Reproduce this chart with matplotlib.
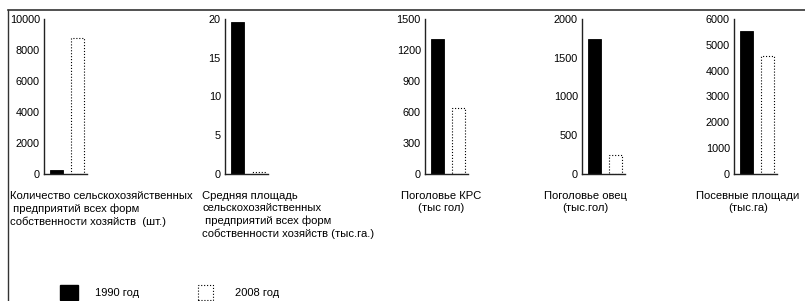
import matplotlib
matplotlib.use('Agg')
import matplotlib.pyplot as plt
from matplotlib.patches import Rectangle
from matplotlib.lines import Line2D

plt.rcParams['font.family'] = ['Liberation Sans', 'DejaVu Sans']

# data (1990 vs 2008)
years = ['1990 год', '2008 год']
enterprises = [250, 8800]
avg_area = [19.6, 0.3]
cattle = [1310, 640]
sheep = [1740, 240]
sown = [5550, 4550]

values = [enterprises, avg_area, cattle, sheep, sown]
yticks = [
    [0, 2000, 4000, 6000, 8000, 10000],
    [0, 5, 10, 15, 20],
    [0, 300, 600, 900, 1200, 1500],
    [0, 500, 1000, 1500, 2000],
    [0, 1000, 2000, 3000, 4000, 5000, 6000],
]
titles = [
    'Количество сельскохозяйственных\n предприятий всех форм\nсобственности хозяйств  (шт.)',
    'Средняя площадь\nсельскохозяйственных\n предприятий всех форм\nсобственности хозяйств (тыс.га.)',
    'Поголовье КРС\n(тыс гол)',
    'Поголовье овец\n(тыс.гол)',
    'Посевные площади\n(тыс.га)',
]

W, H = 805, 301
fig = plt.figure(figsize=(W / 100, H / 100), dpi=100)

spine_x = [44, 225, 425, 582, 734]
top_px, bot_px = 19, 174
ax_w = 43

for i in range(5):
    ax = fig.add_axes([spine_x[i] / W, (H - bot_px) / H, ax_w / W, (bot_px - top_px) / H])
    v = values[i]
    ax.bar(0, v[0], width=0.65, color='black', edgecolor='black', linewidth=0.6)
    ax.bar(1, v[1], width=0.65, color='white', edgecolor='black', linewidth=0.8, linestyle=':')
    ax.set_xlim(-0.6, 1.45)
    ax.set_ylim(0, yticks[i][-1])
    ax.set_yticks(yticks[i])
    ax.set_xticks([])
    ax.tick_params(axis='y', length=0, pad=3, labelsize=7.8)
    for s in ['top', 'right']:
        ax.spines[s].set_visible(False)
    for s in ['left', 'bottom']:
        ax.spines[s].set_linewidth(1.0)
        ax.spines[s].set_color('#222222')

# category captions under the panels
cap = dict(va='top', fontsize=8.1, linespacing=1.3)
fig.text(10 / W, 1 - 191 / H, titles[0], ha='left', **cap)
fig.text(202 / W, 1 - 191 / H, titles[1], ha='left', **cap)
fig.text(441 / W, 1 - 191 / H, titles[2], ha='center', **cap)
fig.text(585 / W, 1 - 191 / H, titles[3], ha='center', **cap)
fig.text(748 / W, 1 - 191 / H, titles[4], ha='center', **cap)

# legend drawn by hand
fig.patches.append(Rectangle((60 / W, 1 - 300 / H), 18 / W, 15 / H, transform=fig.transFigure,
                             facecolor='black', edgecolor='black'))
fig.text(95 / W, 1 - 293 / H, years[0], ha='left', va='center', fontsize=8)
fig.patches.append(Rectangle((198 / W, 1 - 300 / H), 15 / W, 15 / H, transform=fig.transFigure,
                             facecolor='white', edgecolor='black', linestyle=':', linewidth=0.8))
fig.text(235 / W, 1 - 293 / H, years[1], ha='left', va='center', fontsize=8)

# outer frame (top and left border of the scanned figure)
fig.add_artist(Line2D([8 / W, 1], [1 - 10 / H, 1 - 10 / H], transform=fig.transFigure,
                      color='#333333', linewidth=1.2))
fig.add_artist(Line2D([8 / W, 8 / W], [0, 1 - 10 / H], transform=fig.transFigure,
                      color='#333333', linewidth=1.0))

fig.savefig('out.png', dpi=100)
